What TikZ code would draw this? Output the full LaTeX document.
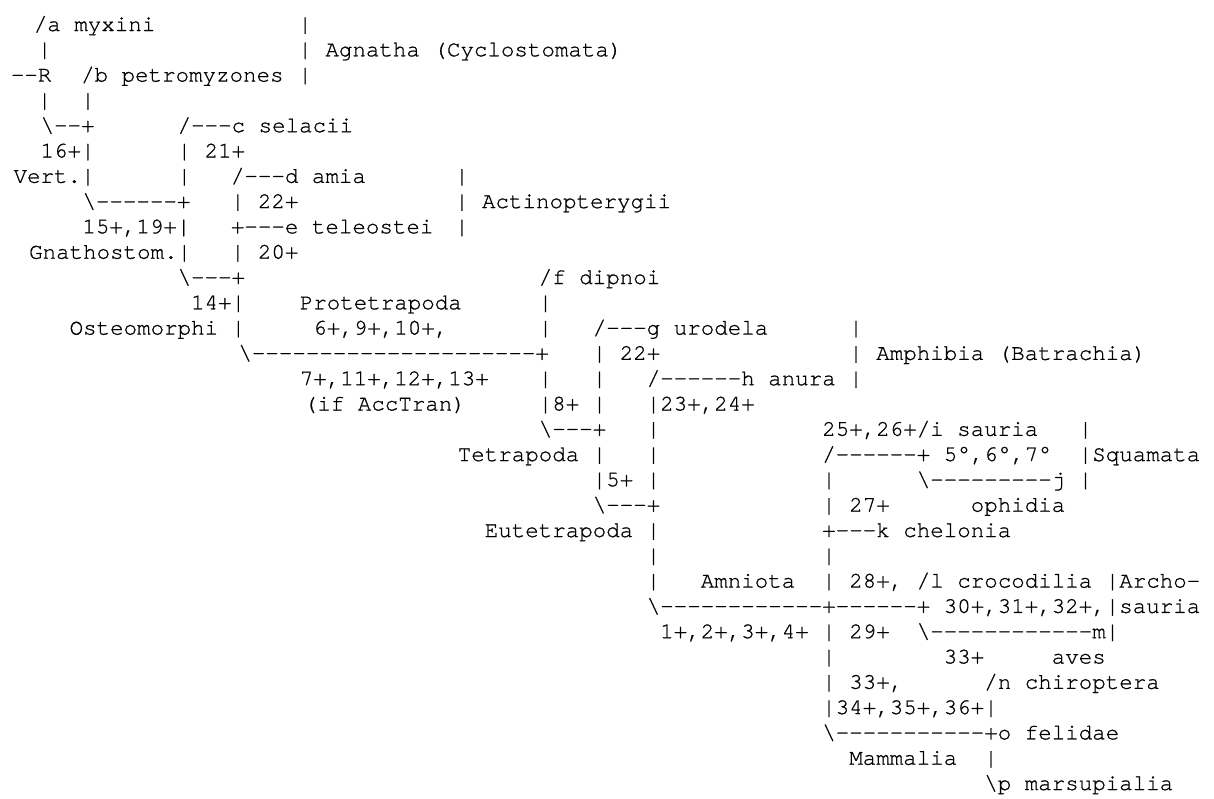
\documentclass[tikz,border=0pt]{standalone}
\usepackage{fontspec}
\newfontfamily\cursorfont[Ligatures=TeXOff, FakeBold=0.8]{texgyrecursor-regular.otf}
\begin{document}
\begin{tikzpicture}[x=13.5pt, y=-25.3pt,
    txt/.style={anchor=base west, inner sep=0pt, outer sep=0pt,
      font=\cursorfont\fontsize{22.5}{25}\selectfont}]
  \useasboundingbox (0pt,0pt) rectangle (1214pt,-798pt);
  \begin{scope}[shift={(-1.25pt,-5.7pt)}]
  % Agnatha
  \node[txt] (myxini) at (2.6,1) {/a myxini};
  \node[txt] (agtop) at (22.2,1) {|};
  \node[txt] (rootup) at (2.9,2) {|};
  \node[txt] (agnatha) at (22.2,2) {| Agnatha (Cyclostomata)};
  \node[txt] (root) at (0.9,3) {--R};
  \node[txt] (petro) at (6.1,3) {/b petromyzones};
  \node[txt] (agbot) at (22.2,3) {|};
  \node[txt] (rootdn) at (2.9,4) {|};
  \node[txt] (petrodn) at (6.1,4) {|};

  % Vertebrata, Gnathostomata
  \node[txt] (vertj) at (3.1,5) {\textbackslash--+};
  \node[txt] (selacii) at (13.25,5) {/---c selacii};
  \node[txt] (v16) at (3.1,6) {16+|};
  \node[txt] (g21) at (13.25,6) {| 21+};
  \node[txt] (vert) at (1.1,7) {Vert.|};
  \node[txt] (g7) at (13.25,7) {|};
  \node[txt] (amia) at (17.2,7) {/---d amia};
  \node[txt] (actop) at (33.8,7) {|};
  \node[txt] (gnathj) at (6.2,8) {\textbackslash------+};
  \node[txt] (a22) at (17.2,8) {| 22+};
  \node[txt] (actino) at (33.8,8) {| Actinopterygii};
  \node[txt] (g1519) at (6.2,9) {15+,19+|};
  \node[txt] (teleostei) at (17.2,9) {+---e teleostei};
  \node[txt] (acbot) at (33.8,9) {|};
  \node[txt] (gnath) at (2.25,10) {Gnathostom.|};
  \node[txt] (a20) at (17.2,10) {| 20+};

  % Osteomorphi, Protetrapoda
  \node[txt] (osteoj) at (13.25,11) {\textbackslash---+};
  \node[txt] (dipnoi) at (40,11) {/f dipnoi};
  \node[txt] (o14) at (14.25,12) {14+|};
  \node[txt] (prot) at (22.3,12) {Protetrapoda};
  \node[txt] (d12) at (40,12) {|};
  \node[txt] (osteo) at (5.25,13) {Osteomorphi |};
  \node[txt] (prot1) at (23.3,13) {6+,9+,10+,};
  \node[txt] (d13) at (40,13) {|};
  \node[txt] (urodela) at (44,13) {/---g urodela};
  \node[txt] (amtop) at (63,13) {|};
  \node[txt] (protj) at (17.75,14) {\textbackslash---------------------+};
  \node[txt] (u22) at (44,14) {| 22+};
  \node[txt] (amphibia) at (63,14) {| Amphibia (Batrachia)};
  \node[txt] (prot2) at (22.3,15) {7+,11+,12+,13+};
  \node[txt] (d15) at (40,15) {|};
  \node[txt] (u15) at (44,15) {|};
  \node[txt] (anura) at (48,15) {/------h anura};
  \node[txt] (ambot) at (63,15) {|};
  \node[txt] (prot3) at (22.6,16) {(if AccTran)};
  \node[txt] (d8) at (40,16) {|8+};
  \node[txt] (u16) at (44,16) {|};
  \node[txt] (h2324) at (48,16) {|23+,24+};

  % Tetrapoda, Squamata
  \node[txt] (tetj) at (40,17) {\textbackslash---+};
  \node[txt] (h17) at (48,17) {|};
  \node[txt] (sauria) at (61,17) {25+,26+/i sauria};
  \node[txt] (sqtop) at (80,17) {|};
  \node[txt] (tetra) at (34,18) {Tetrapoda |};
  \node[txt] (h18) at (48,18) {|};
  \node[txt] (squamj) at (61,18) {/------+ 5°,6°,7°};
  \node[txt] (squamata) at (80,18) {|Squamata};
  \node[txt] (t5) at (44,19) {|5+};
  \node[txt] (h19) at (48,19) {|};
  \node[txt] (s19) at (61,19) {|};
  \node[txt] (ophj) at (68,19) {\textbackslash---------j};
  \node[txt] (sqbot) at (80,19) {|};
  \node[txt] (eutj) at (44,20) {\textbackslash---+};
  \node[txt] (s27) at (61,20) {| 27+};
  \node[txt] (ophidia) at (72,20) {ophidia};
  \node[txt] (eutetra) at (36,21) {Eutetrapoda |};
  \node[txt] (chelonia) at (61,21) {+---k chelonia};

  % Amniota, Archosauria, Mammalia
  \node[txt] (e22) at (48,22) {|};
  \node[txt] (s22) at (61,22) {|};
  \node[txt] (e23) at (48,23) {|};
  \node[txt] (amniota) at (52,23) {Amniota};
  \node[txt] (s28) at (61,23) {| 28+,};
  \node[txt] (croc) at (68,23) {/l crocodilia};
  \node[txt] (archo) at (82,23) {|Archo-};
  \node[txt] (amnj) at (48,24) {\textbackslash------------+------+ 30+,31+,32+,|sauria};
  \node[txt] (amn1) at (49,25) {1+,2+,3+,4+};
  \node[txt] (s29) at (61,25) {| 29+};
  \node[txt] (avesj) at (68,25) {\textbackslash------------m|};
  \node[txt] (s26) at (61,26) {|};
  \node[txt] (m33) at (70,26) {33+};
  \node[txt] (aves) at (78,26) {aves};
  \node[txt] (m33b) at (61,27) {| 33+,};
  \node[txt] (chiro) at (73,27) {/n chiroptera};
  \node[txt] (m34) at (61,28) {|34+,35+,36+|};
  \node[txt] (mammj) at (61,29) {\textbackslash-----------+o felidae};
  \node[txt] (mamm) at (63,30) {Mammalia};
  \node[txt] (f30) at (73,30) {|};
  \node[txt] (marsup) at (73,31) {\textbackslash{}p marsupialia};
  \end{scope}
\end{tikzpicture}
\end{document}
